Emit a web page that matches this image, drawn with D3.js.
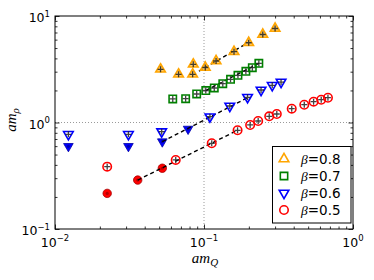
<!DOCTYPE html>
<html><head><meta charset="utf-8">
<script src="https://cdn.jsdelivr.net/npm/d3@7"></script>
<style>body{margin:0;background:#fff}svg{display:block}</style>
</head><body>
<script>
// ---- data ----
const betas = ["0.8", "0.7", "0.6", "0.5"];
const colors = ["#ffa500", "#008000", "#0000ff", "#ff0000"];
const shapes = ["up", "square", "down", "circle"];

// beta = 0.8 (open markers with cross)
const b08X = [0.0511, 0.0675, 0.0847, 0.0839, 0.102, 0.1205, 0.159, 0.1995, 0.248, 0.300];
const b08Y = [3.16, 2.836, 3.52, 2.836, 3.284, 3.78, 4.62, 5.61, 6.70, 7.63];
// beta = 0.7
const b07X = [0.0617, 0.0753, 0.0893, 0.1028, 0.1172, 0.1337, 0.1507, 0.169, 0.191, 0.211, 0.2334];
const b07Y = [1.663, 1.673, 1.852, 1.997, 2.109, 2.314, 2.545, 2.774, 3.025, 3.271, 3.597];
// beta = 0.6
const b06X = [0.0123, 0.0311, 0.052, 0.1096, 0.149, 0.196, 0.2415, 0.287, 0.329];
const b06Y = [0.774, 0.774, 0.820, 1.133, 1.429, 1.725, 2.019, 2.235, 2.399];
const b06FilledX = [0.0123, 0.0311, 0.0525, 0.0782];
const b06FilledY = [0.598, 0.598, 0.661, 0.869];
// beta = 0.5
const b05X = [0.0224, 0.0646, 0.1127, 0.168, 0.204, 0.231, 0.274, 0.308, 0.388, 0.471, 0.544, 0.612, 0.679];
const b05Y = [0.385, 0.445, 0.638, 0.845, 0.948, 1.033, 1.143, 1.202, 1.348, 1.469, 1.568, 1.637, 1.709];
const b05FilledX = [0.0224, 0.0359, 0.0525];
const b05FilledY = [0.216, 0.288, 0.372];

// dashed fit lines (end points)
const fit08X = [0.0925, 0.1945], fit08Y = [3.03, 5.54];
const fit07X = [0.1028, 0.2334], fit07Y = [1.997, 3.597];
const fit06X = [0.0525, 0.196],  fit06Y = [0.661, 1.709];
const fit05X = [0.0359, 0.168],  fit05Y = [0.288, 0.845];

const xTickExps = [-2, -1, 0];
const yTickExps = [-1, 0, 1];

// ---- drawing ----
const W = 374, H = 280;
const svg = d3.select("body").append("svg").attr("width", W).attr("height", H);
const x = d3.scaleLog().domain([0.01, 1]).range([55, 353]);
const y = d3.scaleLog().domain([0.1, 10]).range([229, 16]);
const [x0, x1] = x.range(), [y0, y1] = y.range();

const xMajor = xTickExps.map(e => Math.pow(10, e));
const yMajor = yTickExps.map(e => Math.pow(10, e));
const minorOf = (majors) => {
  const out = [];
  for (let i = 0; i < majors.length - 1; i++) for (let k = 2; k <= 9; k++) out.push(majors[i] * k);
  return out;
};
const xMinor = minorOf(xMajor), yMinor = minorOf(yMajor);

// grid (dotted) at interior majors
const grid = svg.append("g").attr("stroke", "#9a9a9a").attr("stroke-width", 1).attr("stroke-dasharray", "1,2");
xMajor.filter(v => v > 0.01 && v < 1).forEach(v =>
  grid.append("line").attr("x1", x(v)).attr("x2", x(v)).attr("y1", y1).attr("y2", y0));
yMajor.filter(v => v > 0.1 && v < 10).forEach(v =>
  grid.append("line").attr("y1", y(v)).attr("y2", y(v)).attr("x1", x0).attr("x2", x1));

// axes with inward ticks
const axDefs = [
  [d3.axisBottom(x), `translate(0,${y0})`, xMajor, xMinor],
  [d3.axisTop(x), `translate(0,${y1})`, xMajor, xMinor],
  [d3.axisLeft(y), `translate(${x0},0)`, yMajor, yMinor],
  [d3.axisRight(y), `translate(${x1},0)`, yMajor, yMinor]
];
axDefs.forEach(([ax, tr, maj, mn]) => {
  const g1 = svg.append("g").attr("transform", tr)
    .call(ax.tickValues(maj).tickSizeInner(-4.5).tickSizeOuter(0).tickFormat(""));
  g1.select(".domain").remove();
  const g2 = svg.append("g").attr("transform", tr)
    .call(ax.tickValues(mn).tickSizeInner(-2.5).tickSizeOuter(0).tickFormat(""));
  g2.select(".domain").remove();
});
svg.selectAll(".tick line").attr("stroke", "#000").attr("stroke-width", 0.8);

// frame
svg.append("rect").attr("x", x0).attr("y", y1).attr("width", x1 - x0).attr("height", y0 - y1)
  .attr("fill", "none").attr("stroke", "#000").attr("stroke-width", 1);

// tick labels
const tickFont = "'DejaVu Sans', sans-serif";
xTickExps.forEach(e => {
  const t = svg.append("text").attr("x", x(Math.pow(10, e))).attr("y", y0 + 17.5)
    .attr("text-anchor", "middle").attr("font-family", tickFont).attr("font-size", 12.5);
  t.append("tspan").text("10");
  t.append("tspan").attr("dy", -5.5).attr("font-size", 8.5).text(e < 0 ? "\u2212" + (-e) : String(e));
});
yTickExps.forEach(e => {
  const t = svg.append("text").attr("x", 50).attr("y", y(Math.pow(10, e)) + 6)
    .attr("text-anchor", "end").attr("font-family", tickFont).attr("font-size", 12.5);
  t.append("tspan").text("10");
  t.append("tspan").attr("dy", -5.5).attr("font-size", 8.5).text(e < 0 ? "\u2212" + (-e) : String(e));
});

// axis labels
const mathFont = "'Liberation Serif', 'DejaVu Serif', serif";
const xl = svg.append("text").attr("x", 205).attr("y", 263).attr("text-anchor", "middle")
  .attr("font-family", mathFont).attr("font-style", "italic").attr("font-size", 15);
xl.append("tspan").text("am");
xl.append("tspan").attr("dy", 3).attr("font-size", 11).text("Q");
const yl = svg.append("text").attr("transform", "translate(16,120) rotate(-90)").attr("text-anchor", "middle")
  .attr("font-family", mathFont).attr("font-style", "italic").attr("font-size", 15);
yl.append("tspan").text("am");
yl.append("tspan").attr("dy", 3).attr("font-size", 11).text("ρ");

// markers
function symPath(shape) {
  if (shape === "up" || shape === "down") return d3.symbol(d3.symbolTriangle, 40)();
  if (shape === "square") return d3.symbol(d3.symbolSquare, 54)();
  return d3.symbol(d3.symbolCircle, 56)();
}
function rot(shape) { return shape === "down" ? " rotate(180)" : ""; }

const plot = svg.append("g");
const filledSets = [
  [b06FilledX, b06FilledY, 2],
  [b05FilledX, b05FilledY, 3]
];
filledSets.forEach(([xs, ys, i]) => {
  xs.forEach((xv, j) => {
    const g = plot.append("g").attr("transform", `translate(${x(xv)},${y(ys[j])})${rot(shapes[i])}`);
    g.append("path").attr("d", symPath(shapes[i])).attr("fill", colors[i])
      .attr("stroke", d3.color(colors[i]).darker(1.2)).attr("stroke-width", 0.8);
    g.append("circle").attr("r", 1.6).attr("fill", d3.color(colors[i]).darker(1.5)).attr("opacity", 0.7);
  });
});

const fits = [[fit08X, fit08Y], [fit07X, fit07Y], [fit06X, fit06Y], [fit05X, fit05Y]];
const line = d3.line().x(d => x(d[0])).y(d => y(d[1]));
fits.forEach(([fx, fy]) => {
  plot.append("path").attr("d", line(fx.map((v, k) => [v, fy[k]])))
    .attr("fill", "none").attr("stroke", "#000").attr("stroke-width", 1.4).attr("stroke-dasharray", "4,3");
});

const openSets = [[b08X, b08Y, 0], [b07X, b07Y, 1], [b06X, b06Y, 2], [b05X, b05Y, 3]];
openSets.forEach(([xs, ys, i]) => {
  xs.forEach((xv, j) => {
    const g = plot.append("g").attr("transform", `translate(${x(xv)},${y(ys[j])})${rot(shapes[i])}`);
    g.append("path").attr("d", symPath(shapes[i]))
      .attr("fill", i === 0 ? colors[i] : "none").attr("fill-opacity", i === 0 ? 0.55 : 0)
      .attr("stroke", colors[i]).attr("stroke-width", 1.6);
    g.append("path").attr("d", "M-3,0H3M0,-3V3").attr("stroke", "#222").attr("stroke-width", 1.3).attr("opacity", 0.85);
  });
});

// legend
const lg = svg.append("g");
lg.append("rect").attr("x", 272.5).attr("y", 146.5).attr("width", 78.5).attr("height", 76.5)
  .attr("fill", "#fff").attr("stroke", "#000").attr("stroke-width", 1);
betas.forEach((b, i) => {
  const cy = 159 + i * 17;
  lg.append("path").attr("d", symPath(shapes[i]))
    .attr("transform", `translate(284,${cy})${rot(shapes[i])}`)
    .attr("fill", "#fff").attr("stroke", colors[i]).attr("stroke-width", 1.6);
  const t = lg.append("text").attr("x", 301).attr("y", cy + 5).attr("font-size", 13.5);
  t.append("tspan").attr("font-family", mathFont).attr("font-style", "italic").text("β");
  t.append("tspan").attr("font-family", tickFont).text("=" + b);
});
</script>
</body></html>
